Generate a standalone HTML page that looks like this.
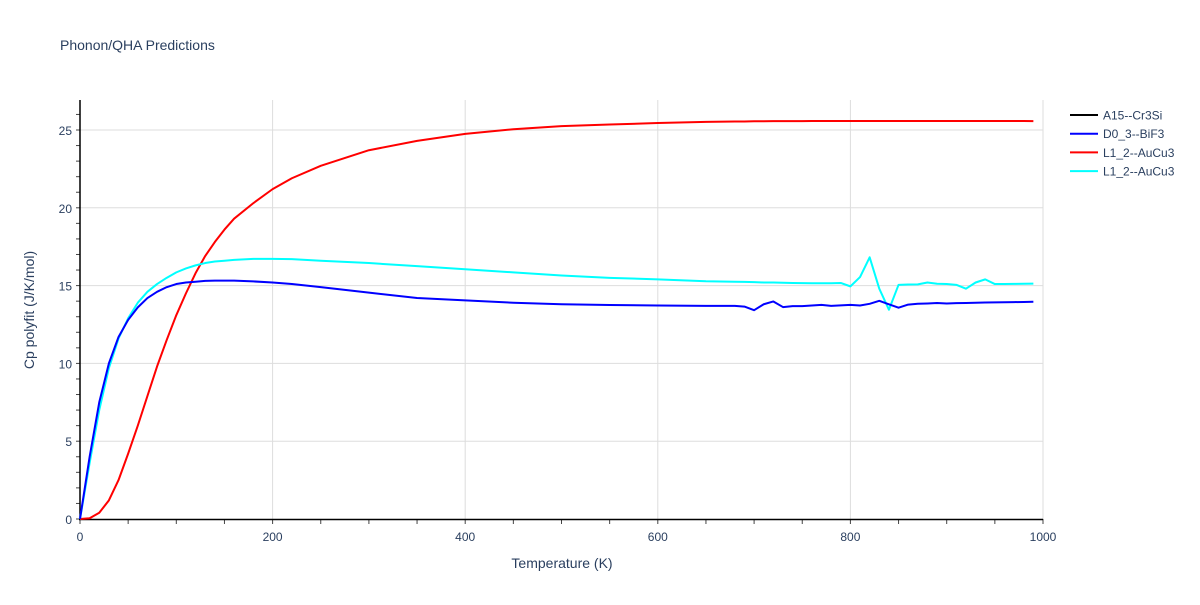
<!DOCTYPE html>
<html><head><meta charset="utf-8"><style>
body{margin:0;background:#fff;font-family:"Liberation Sans",sans-serif;}
svg text{font-family:"Liberation Sans",sans-serif;fill:#2a3f5f;}
</style></head><body>
<svg id="chart" width="1200" height="600" xmlns="http://www.w3.org/2000/svg">
<text x="60" y="50" font-size="14">Phonon/QHA Predictions</text>
<g id="grid"></g><g id="axes"></g><g id="series"></g><g id="legend"></g>
<text x="562" y="568" font-size="14" text-anchor="middle">Temperature (K)</text>
<text transform="translate(34,310) rotate(-90)" font-size="14" text-anchor="middle">Cp polyfit (J/K/mol)</text>
</svg>
<script>
const temps=[0,10,20,30,40,50,60,70,80,90,100,110,120,130,140,150,160,180,200,220,250,300,350,400,450,500,550,600,650,680,690,700,710,720,730,740,750,760,770,780,790,800,810,820,830,840,850,860,870,880,890,900,910,920,930,940,950,960,970,980,990];
const redVals=[0,0.05,0.4,1.2,2.5,4.2,6,7.9,9.8,11.5,13.1,14.5,15.8,16.9,17.8,18.6,19.3,20.3,21.2,21.9,22.7,23.7,24.3,24.75,25.05,25.25,25.35,25.45,25.52,25.55,25.55,25.56,25.56,25.57,25.57,25.57,25.57,25.58,25.58,25.58,25.58,25.58,25.58,25.58,25.58,25.58,25.58,25.58,25.58,25.58,25.58,25.58,25.58,25.58,25.58,25.58,25.58,25.58,25.58,25.58,25.57];
const blueVals=[0,4,7.5,10,11.7,12.8,13.6,14.2,14.6,14.9,15.1,15.2,15.25,15.3,15.32,15.32,15.32,15.27,15.2,15.1,14.9,14.55,14.2,14.05,13.9,13.8,13.75,13.72,13.7,13.7,13.65,13.42,13.8,13.98,13.62,13.68,13.68,13.72,13.76,13.7,13.73,13.76,13.72,13.83,14.02,13.8,13.58,13.78,13.83,13.85,13.88,13.85,13.87,13.88,13.9,13.91,13.92,13.93,13.94,13.95,13.96];
const cyanVals=[0,3.6,7,9.7,11.6,12.9,13.9,14.6,15.1,15.5,15.85,16.1,16.3,16.45,16.55,16.6,16.65,16.72,16.72,16.7,16.6,16.45,16.25,16.05,15.85,15.65,15.5,15.4,15.28,15.25,15.24,15.22,15.2,15.2,15.18,15.17,15.16,15.15,15.15,15.15,15.17,14.95,15.55,16.82,14.8,13.45,15.05,15.07,15.08,15.2,15.12,15.1,15.05,14.8,15.2,15.4,15.1,15.1,15.11,15.12,15.13];
const xTicks=[0,200,400,600,800,1000];
const yTicks=[0,5,10,15,20,25];
const legendNames=["A15--Cr3Si","D0_3--BiF3","L1_2--AuCu3","L1_2--AuCu3"];
const legendColors=["#000000","#0000ff","#ff0000","#00ffff"];
const NS="http://www.w3.org/2000/svg";
const X=t=>80+t*0.963, Y=v=>519-v*15.56;
function mk(tag,attrs,parent){const e=document.createElementNS(NS,tag);for(const k in attrs)e.setAttribute(k,attrs[k]);parent.appendChild(e);return e;}
const grid=document.getElementById('grid'),axes=document.getElementById('axes'),series=document.getElementById('series'),legend=document.getElementById('legend');
yTicks.forEach(v=>{if(v>0){const l=mk('line',{x1:80,x2:1043,y1:Y(v),y2:Y(v),stroke:'#ddd','stroke-width':1},grid);

}
const t=mk('text',{x:72,y:Y(v)+5,'font-size':12,'text-anchor':'end'},axes);t.textContent=v;

});
xTicks.forEach(v=>{if(v>0){const l=mk('line',{x1:X(v),x2:X(v),y1:100,y2:519,stroke:'#ddd','stroke-width':1},grid);

}
const t=mk('text',{x:X(v),y:541,'font-size':12,'text-anchor':'middle'},axes);t.textContent=v;

});
for(let v=0;v<=26;v++)mk('line',{x1:76,x2:80,y1:Y(v),y2:Y(v),stroke:'#444','stroke-width':1},axes);
for(let t=0;t<=1000;t+=50)mk('line',{x1:X(t),x2:X(t),y1:519,y2:524,stroke:'#444','stroke-width':1},axes);
const ya=mk('line',{x1:80,x2:80,y1:100,y2:520,stroke:'#000','stroke-width':1.5},axes);


const xa=mk('line',{x1:79,x2:1043,y1:519.5,y2:519.5,stroke:'#000','stroke-width':1.5},axes);


[[redVals,'#ff0000','series-red-l12-aucu3'],[cyanVals,'#00ffff','series-cyan-l12-aucu3'],[blueVals,'#0000ff','series-blue-d03-bif3']].forEach(([vals,c,n])=>{
const p=mk('polyline',{points:temps.map((t,i)=>X(t)+','+Y(vals[i])).join(' '),fill:'none',stroke:c,'stroke-width':2,'stroke-linejoin':'round'},series);

});
legendNames.forEach((n,i)=>{const y=115+i*18.7;
const g=mk('g',{},legend);


mk('line',{x1:1070,x2:1098,y1:y,y2:y,stroke:legendColors[i],'stroke-width':2},g);
const t=mk('text',{x:1103,y:y+4.5,'font-size':12},g);t.textContent=n;});
</script>
</body></html>
